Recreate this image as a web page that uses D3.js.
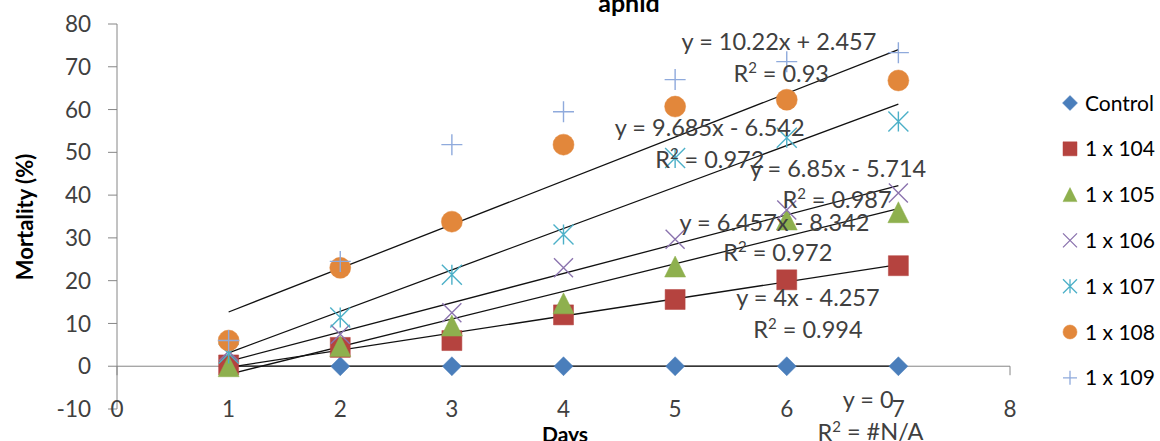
<!DOCTYPE html>
<html>
<head>
<meta charset="utf-8">
<script src="https://cdn.jsdelivr.net/npm/d3@7"></script>
<style>
  body { margin: 0; background: #fff; }
  text { font-family: Lato, "Open Sans", sans-serif; }
</style>
</head>
<body>
<script>
// data
var days = [1, 2, 3, 4, 5, 6, 7];
var seriesNames = ["Control", "1 x 104", "1 x 105", "1 x 106", "1 x 107", "1 x 108", "1 x 109"];
var control = [0, 0, 0, 0, 0, 0, 0];
var s104 = [0.3, 4.4, 6, 12, 15.6, 20.2, 23.5];
var s105 = [0, 4.7, 9.5, 14.7, 23.3, 34.3, 36];
var s106 = [3.5, 7.5, 12.5, 23, 29.7, 36.5, 40.5];
var s107 = [3, 11.4, 21.4, 30.8, 48.7, 53.4, 57.2];
var s108 = [6, 23, 33.8, 51.8, 60.7, 62.3, 66.8];
var s109 = [6, 24.5, 51.8, 59.5, 67, 71.2, 73.3];
// trendline coefficients from the labels (1 x 109 has none)
var trendSlope     = [0, 4, 6.457, 6.85, 9.685, 10.22, null];
var trendIntercept = [0, -4.257, -8.342, -5.714, -6.542, 2.457, null];
var trendEq = ["y = 0", "y = 4x - 4.257", "y = 6.457x - 8.342", "y = 6.85x - 5.714",
               "y = 9.685x - 6.542", "y = 10.22x + 2.457", null];
var trendR2 = ["#N/A", "0.994", "0.972", "0.987", "0.972", "0.93", null];
var xTicks = [0, 1, 2, 3, 4, 5, 6, 7, 8];
var yTicks = [-10, 0, 10, 20, 30, 40, 50, 60, 70, 80];

var allSeries = [control, s104, s105, s106, s107, s108, s109];
var colors = ["#4A7EBB", "#B5433F", "#8EB04E", "#8B73AE", "#4CB0C8", "#E2873B", "#8FAADC"];
var shapes = ["diamond", "square", "triangle", "times", "asterisk", "circle", "plus"];

// label anchors in data units (x, y) for equation and R² text
var eqPos = [[6.73, -7.9], [6.19, 16], [5.89, 33.5], [6.46, 46.3], [5.31, 55.7], [5.93, 75.8]];
var r2Pos = [[6.75, -15.4], [6.19, 8.5], [5.92, 26.5], [6.45, 38.9], [5.31, 48.2], [5.95, 68.5]];

var W = 1160, H = 441;
var svg = d3.select("body").append("svg").attr("width", W).attr("height", H);

var x = d3.scaleLinear().domain([0, 8]).range([117, 1010]);
var y = d3.scaleLinear().domain([-10, 80]).range([409, 24]);

var axisColor = "#868686", textColor = "#404040";

function markerPath(shape, s) {
  var h = s / 2;
  switch (shape) {
    case "diamond": return "M0," + (-h) + "L" + h + ",0L0," + h + "L" + (-h) + ",0Z";
    case "square": return "M" + (-h) + "," + (-h) + "h" + s + "v" + s + "h" + (-s) + "Z";
    case "triangle": return "M0," + (-h) + "L" + h + "," + h + "L" + (-h) + "," + h + "Z";
    case "circle": return d3.symbol(d3.symbolCircle, Math.PI * h * h)();
    case "times": return "M" + (-h) + "," + (-h) + "L" + h + "," + h + "M" + h + "," + (-h) + "L" + (-h) + "," + h;
    case "asterisk": return "M" + (-h) + "," + (-h) + "L" + h + "," + h + "M" + h + "," + (-h) + "L" + (-h) + "," + h +
                            "M0," + (-h) + "V" + h;
    case "plus": return "M" + (-h) + ",0H" + h + "M0," + (-h) + "V" + h;
  }
}
var filled = { diamond: true, square: true, triangle: true, circle: true };
var mSize = [19, 20, 21, 19, 20, 21, 21];

// title
svg.append("text").attr("x", 629).attr("y", 12).attr("text-anchor", "middle")
  .attr("font-size", 25).attr("font-weight", "bold").attr("fill", "#000").text("aphid");

// y axis
svg.append("line").attr("x1", x(0)).attr("x2", x(0)).attr("y1", y(80)).attr("y2", y(-10))
  .attr("stroke", axisColor).attr("stroke-width", 1);
svg.selectAll(".ytick").data(yTicks).enter().append("line")
  .attr("x1", x(0) - 9).attr("x2", x(0)).attr("y1", function (d) { return y(d); }).attr("y2", function (d) { return y(d); })
  .attr("stroke", axisColor);
svg.selectAll(".ylab").data(yTicks).enter().append("text")
  .attr("x", 91).attr("y", function (d) { return y(d); }).attr("dy", "0.36em")
  .attr("text-anchor", "end").attr("font-size", 22.5).attr("fill", textColor)
  .text(function (d) { return d; });

// x axis (crosses at y = 0)
svg.append("line").attr("x1", x(0)).attr("x2", x(8)).attr("y1", y(0)).attr("y2", y(0))
  .attr("stroke", axisColor);
svg.selectAll(".xtick").data(xTicks).enter().append("line")
  .attr("x1", function (d) { return x(d); }).attr("x2", function (d) { return x(d); })
  .attr("y1", y(0)).attr("y2", y(0) + 9).attr("stroke", axisColor);
svg.selectAll(".xlab").data(xTicks).enter().append("text")
  .attr("x", function (d) { return x(d); }).attr("y", y(-10)).attr("dy", "0.36em")
  .attr("text-anchor", "middle").attr("font-size", 22.5).attr("fill", textColor)
  .text(function (d) { return d; });

// axis titles
svg.append("text").attr("x", 565).attr("y", 442).attr("text-anchor", "middle")
  .attr("font-size", 21).attr("font-weight", "bold").attr("fill", "#000").text("Days");
svg.append("text").attr("transform", "translate(33,217) rotate(-90)").attr("text-anchor", "middle")
  .attr("font-size", 22).attr("font-weight", "bold").attr("fill", "#000").text("Mortality (%)");

// trendlines
var d0 = d3.min(days), d1 = d3.max(days);
trendSlope.forEach(function (m, i) {
  if (m === null) return;
  var b = trendIntercept[i];
  svg.append("line")
    .attr("x1", x(d0)).attr("y1", y(m * d0 + b))
    .attr("x2", x(d1)).attr("y2", y(m * d1 + b))
    .attr("stroke", "#111").attr("stroke-width", 1.3);
});

// markers
allSeries.forEach(function (vals, i) {
  var shape = shapes[i];
  svg.append("g").selectAll("path").data(vals).enter().append("path")
    .attr("transform", function (d, j) { return "translate(" + x(days[j]) + "," + y(d) + ")"; })
    .attr("d", markerPath(shape, mSize[i]))
    .attr("fill", filled[shape] ? colors[i] : "none")
    .attr("stroke", colors[i])
    .attr("stroke-width", filled[shape] ? 0.5 : 1.4);
});

// trendline labels
trendEq.forEach(function (eq, i) {
  if (eq === null) return;
  svg.append("text").attr("x", x(eqPos[i][0])).attr("y", y(eqPos[i][1])).attr("dy", "0.36em")
    .attr("text-anchor", "middle").attr("font-size", 23.5).attr("fill", textColor).text(eq);
  var t = svg.append("text").attr("x", x(r2Pos[i][0])).attr("y", y(r2Pos[i][1])).attr("dy", "0.36em")
    .attr("text-anchor", "middle").attr("font-size", 23.5).attr("fill", textColor);
  t.append("tspan").text("R");
  t.append("tspan").attr("font-size", 15).attr("dy", "-0.6em").text("2");
  t.append("tspan").attr("dy", "0.38em").text(" = " + trendR2[i]);
});

// legend
var lg = svg.append("g");
seriesNames.forEach(function (name, i) {
  var cy = 103 + i * 45.8;
  var shape = shapes[i];
  lg.append("path").attr("transform", "translate(1070," + cy + ")")
    .attr("d", markerPath(shape, shape === "diamond" ? 15 : 14))
    .attr("fill", filled[shape] ? colors[i] : "none")
    .attr("stroke", colors[i]).attr("stroke-width", filled[shape] ? 0.5 : 1.3);
  lg.append("text").attr("x", 1085).attr("y", cy).attr("dy", "0.36em")
    .attr("font-size", 21).attr("fill", "#000").text(name);
});
</script>
</body>
</html>
